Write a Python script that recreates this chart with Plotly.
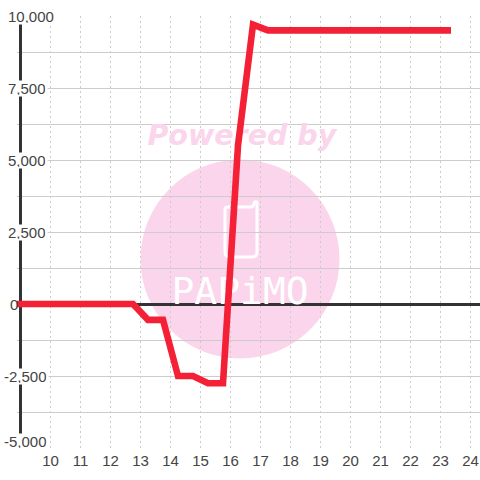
import plotly.graph_objects as go

hours = [8.75, 9.25, 9.75, 10.25, 10.75, 11.25, 11.75, 12.25, 12.75, 13.25, 13.75, 14.25, 14.75,
         15.25, 15.75, 16.25, 16.75, 17.25, 17.75, 18.25, 18.75, 19.25, 19.75, 20.25, 20.75,
         21.25, 21.75, 22.25, 22.75, 23.35]
values = [0, 0, 0, 0, 0, 0, 0, 0, 0, -550, -550, -2500, -2500,
          -2750, -2750, 5500, 9700, 9500, 9500, 9500, 9500, 9500, 9500, 9500, 9500,
          9500, 9500, 9500, 9500, 9500]
x_ticks = list(range(10, 25))
y_ticks = [10000, 7500, 5000, 2500, 0, -2500, -5000]
y_labels = ["10,000", "7,500", "5,000", "2,500", "0", "-2,500", "-5,000"]
y_grid = [v * 1250 for v in range(-4, 9)]

W, H = 480, 480
L, R, T, B = 17, 0, 16, 32
PW, PH = W - L - R, H - T - B
PINK = "#FBD5EC"
TXT = "#444444"
GRID = "#CCCCCC"
FONT = "Liberation Sans, Arial, sans-serif"


def px(x):
    return (x - L) / PW


def py(y):
    return 1 - (y - T) / PH


def pt(x, y):
    return f"{px(x):.5f} {py(y):.5f}"


phone = (
    f"M {pt(228, 207)} L {pt(250, 207)} Q {pt(254, 207)} {pt(254, 203)} "
    f"Q {pt(255, 201)} {pt(257, 202)} L {pt(257, 252)} Q {pt(257, 257)} {pt(252, 257)} "
    f"L {pt(230, 257)} Q {pt(225, 257)} {pt(225, 252)} L {pt(225, 210)} Q {pt(225, 207)} {pt(228, 207)} Z"
)

fig = go.Figure()
fig.add_trace(go.Scatter(x=[16.38], y=[5760], mode="text", text=["Powered by"],
                         textposition="middle center", hoverinfo="skip",
                         textfont=dict(family="DejaVu Sans", size=28.5, color=PINK, weight="bold", style="italic")))
fig.add_trace(go.Scatter(x=[16.32], y=[330], mode="text", text=["PAPiMO"],
                         textposition="middle center", hoverinfo="skip",
                         textfont=dict(family="DejaVu Sans Mono", size=38, color="white")))
fig.add_trace(go.Scatter(x=hours, y=values, mode="lines", hoverinfo="skip",
                         line=dict(color="#F42036", width=6.6, shape="linear")))

shapes = [
    dict(type="circle", xref="paper", yref="paper", x0=px(140.5), x1=px(339.5), y0=py(358.5), y1=py(159.5),
         fillcolor=PINK, line=dict(width=0), layer="below"),
    dict(type="path", xref="paper", yref="paper", path=phone, line=dict(color="white", width=3),
         fillcolor="rgba(0,0,0,0)", layer="below"),
    # blank strip left of the axis, then the axis line itself
    dict(type="rect", xref="x", yref="paper", x0=8.8833, x1=8.98, y0=0, y1=1, fillcolor="white",
         line=dict(width=0), layer="between"),
    dict(type="line", xref="x", yref="y", x0=9, x1=9, y0=-4600, y1=10000,
         line=dict(color="#333333", width=3), layer="between"),
]

annotations = []
for v, t in zip(y_ticks, y_labels):
    annotations.append(dict(
        xref="x", yref="y", x=9, y=v, text=t, showarrow=False, xanchor="left", yanchor="middle",
        xshift=-18.5 if v < 0 else (-12.5 if v == 0 else -14.5),
        yshift=7 if v == -5000 else 0,
        height=13, borderpad=1, bgcolor="rgba(0,0,0,0)" if v == 0 else "white",
        font=dict(family=FONT, size=15, color=TXT)))

fig.update_layout(
    width=W, height=H, autosize=False, showlegend=False,
    margin=dict(l=L, r=R, t=T, b=B, pad=0),
    paper_bgcolor="white", plot_bgcolor="rgba(0,0,0,0)",
    shapes=shapes, annotations=annotations,
    xaxis=dict(range=[8.8833, 24.3167], tickmode="array", tickvals=x_ticks,
               ticktext=[str(v) for v in x_ticks], showline=False, zeroline=False,
               showgrid=True, gridcolor=GRID, gridwidth=1, griddash="2px,3px", ticks="", ticklen=0,
               ticklabelstandoff=2,
               tickfont=dict(family=FONT, size=15, color=TXT)),
    yaxis=dict(range=[-5000, 10000], tickmode="array", tickvals=y_grid, showticklabels=False,
               showline=False, showgrid=True, gridcolor=GRID, gridwidth=1, ticks="",
               zeroline=True, zerolinecolor="#333333", zerolinewidth=3),
)

fig.write_html("out.html", default_width="480px", default_height="480px",
               config=dict(displayModeBar=False),
               post_script="document.body.style.margin='0';document.documentElement.style.overflow='hidden';")
